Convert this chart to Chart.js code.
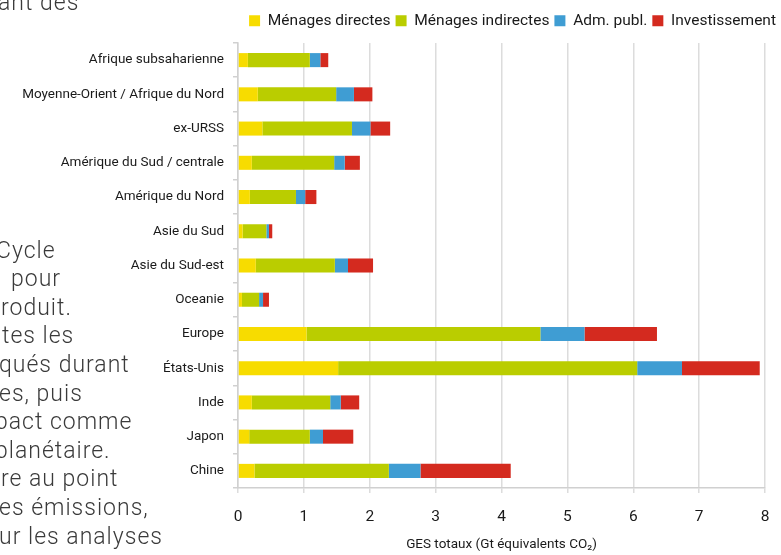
<!DOCTYPE html>
<html>
<head>
<meta charset="UTF-8">
<title>GES par région</title>
<script src="https://cdn.jsdelivr.net/npm/chart.js"></script>
<script>
// régions (du haut vers le bas)
var regions = ['Afrique subsaharienne', 'Moyenne-Orient / Afrique du Nord', 'ex-URSS',
  'Amérique du Sud / centrale', 'Amérique du Nord', 'Asie du Sud', 'Asie du Sud-est',
  'Oceanie', 'Europe', 'États-Unis', 'Inde', 'Japon', 'Chine'];

// Gt équivalents CO2
var menagesDirectes   = [0.15, 0.30, 0.37, 0.21, 0.18, 0.07, 0.27, 0.06, 1.04, 1.52, 0.21, 0.17, 0.25];
var menagesIndirectes = [0.94, 1.19, 1.36, 1.25, 0.70, 0.36, 1.20, 0.26, 3.55, 4.54, 1.19, 0.92, 2.04];
var admPubl           = [0.16, 0.27, 0.28, 0.16, 0.14, 0.04, 0.20, 0.06, 0.67, 0.68, 0.16, 0.20, 0.48];
var investissement    = [0.12, 0.28, 0.30, 0.23, 0.17, 0.05, 0.38, 0.09, 1.10, 1.18, 0.28, 0.46, 1.37];

var xTicks = [0, 1, 2, 3, 4, 5, 6, 7, 8];

// fragments du texte de la page, coupés à gauche
var pageLines = ['Cycle', 'pour', 'roduit.', 'tes les', 'qués durant', 'es, puis',
  'pact comme', 'planétaire.', 're au point', 'es émissions,', 'ur les analyses'];
var pageLeft = [-4, 11, 1, 2, -1, -1, -5, -5, 1, -1, -1];
</script>
<style>
  body { margin: 0; background: #fff; }
  #wrap { position: relative; width: 781px; height: 555px; overflow: hidden; }
  #myChart { position: absolute; left: 0; top: 0; }
  .txt {
    position: absolute; white-space: nowrap;
    font-family: Roboto, 'Open Sans', sans-serif; font-weight: 300;
    font-size: 23px; line-height: 29px; color: #3a3a3a; letter-spacing: 1px;
  }
</style>
</head>
<body>
<div id="wrap">
  <canvas id="myChart" width="781" height="555"></canvas>
  <div class="txt" style="left:-2px; top:-12px;">ant des</div>
</div>
<script>
var wrap = document.getElementById('wrap');
pageLines.forEach(function(t, i) {
  var d = document.createElement('div');
  d.className = 'txt';
  d.textContent = t;
  d.style.left = pageLeft[i] + 'px';
  d.style.top = (250 + i * 28.6 - 14.5) + 'px';
  wrap.appendChild(d);
});

var narrow = "Roboto, sans-serif";

// un peu d'espace sous la légende
var legendGap = {
  id: 'legendGap',
  beforeInit: function(chart) {
    var fit = chart.legend.fit;
    chart.legend.fit = function() {
      fit.bind(chart.legend)();
      this.height += 4.5;
    };
  }
};

function drawChart() {
  var ctx = document.getElementById('myChart').getContext('2d');
  var myChart = new Chart(ctx, {
    type: 'bar',
    plugins: [legendGap],
    data: {
      labels: regions,
      datasets: [
        { label: 'Ménages directes', data: menagesDirectes, backgroundColor: '#f7dc00' },
        { label: 'Ménages indirectes', data: menagesIndirectes, backgroundColor: '#bacd00' },
        { label: 'Adm. publ.', data: admPubl, backgroundColor: '#3f9dd3' },
        { label: 'Investissement', data: investissement, backgroundColor: '#d42a1f' }
      ]
    },
    options: {
      indexAxis: 'y',
      responsive: false,
      animation: false,
      layout: { padding: { top: 8, left: 0, right: 0, bottom: 0 } },
      datasets: { bar: { categoryPercentage: 1, barPercentage: 0.41, borderWidth: 0 } },
      plugins: {
        legend: {
          position: 'top',
          align: 'end',
          labels: {
            boxWidth: 11, boxHeight: 11, padding: 5,
            color: '#1a1a1a',
            font: { family: narrow, size: 15.5 }
          }
        },
        tooltip: { enabled: false }
      },
      scales: {
        x: {
          stacked: true,
          min: 0, max: 8,
          afterBuildTicks: function(scale) {
            scale.ticks = xTicks.map(function(v) { return { value: v }; });
          },
          afterFit: function(scale) {
            scale.height = 67;
            scale.paddingRight = 16;
          },
          grid: { color: '#dcdcdc', lineWidth: 1.5, tickLength: 5 },
          border: { color: '#d0d0d0', width: 1.5 },
          ticks: { color: '#1a1a1a', padding: 15, font: { family: narrow, size: 15.5 } },
          title: {
            display: true,
            text: 'GES totaux (Gt équivalents CO₂)',
            color: '#1a1a1a',
            padding: { top: 0, bottom: 2 },
            font: { family: narrow, size: 13.5 }
          }
        },
        y: {
          stacked: true,
          afterFit: function(scale) { scale.width = 238; },
          grid: { drawOnChartArea: false, color: '#d0d0d0', lineWidth: 1.5, tickLength: 5 },
          border: { color: '#d0d0d0', width: 1.5 },
          ticks: { color: '#1a1a1a', padding: 9, font: { family: narrow, size: 13.5 } }
        }
      }
    }
  });
}

// attendre la police avant de mesurer les textes
if (document.fonts && document.fonts.load) {
  document.fonts.load('14px Roboto').then(drawChart, drawChart);
} else {
  drawChart();
}
</script>
</body>
</html>
